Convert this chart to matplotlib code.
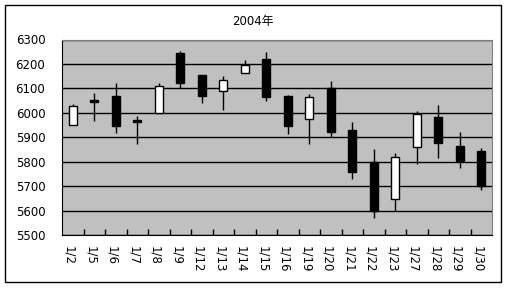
#!/usr/bin/env python3
"""Candlestick chart of daily prices, January 2004 (Excel style)"""

import matplotlib
matplotlib.use('Agg')
import matplotlib.pyplot as plt
import matplotlib.transforms as mtransforms
from matplotlib.patches import Rectangle
import numpy as np

plt.rcParams['font.family'] = ['DejaVu Sans', 'Noto Sans CJK JP']

# data
dates = ['1/2', '1/5', '1/6', '1/7', '1/8', '1/9', '1/12', '1/13', '1/14', '1/15',
         '1/16', '1/19', '1/20', '1/21', '1/22', '1/23', '1/27', '1/28', '1/29', '1/30']
opens = [5949, 6053, 6069, 5971, 6000, 6245, 6155, 6088, 6164, 6220,
         6069, 5974, 6100, 5930, 5798, 5649, 5859, 5983, 5864, 5844]
highs = [6036, 6082, 6123, 5987, 6123, 6254, 6155, 6151, 6216, 6249,
         6071, 6076, 6130, 5963, 5852, 5835, 6008, 6031, 5922, 5856]
lows = [5949, 5968, 5919, 5874, 6000, 6100, 6042, 6013, 6164, 6050,
        5915, 5874, 5900, 5731, 5571, 5597, 5792, 5817, 5776, 5686]
closes = [6027, 6043, 5947, 5961, 6109, 6123, 6070, 6133, 6197, 6066,
          5947, 6064, 5923, 5759, 5597, 5818, 5995, 5878, 5804, 5701]
y_ticks = [5500, 5600, 5700, 5800, 5900, 6000, 6100, 6200, 6300]


def create_candle_chart():
    fig = plt.figure(figsize=(5.07, 2.88), dpi=100)
    W, H = 507, 288
    ax = fig.add_axes([62 / W, (H - 235) / H, 430 / W, (235 - 39.5) / H])

    x = np.arange(len(dates))
    o = np.array(opens)
    c = np.array(closes)
    up = c >= o

    # wicks
    ax.vlines(x, lows, highs, color='black', linewidth=1.0, zorder=2)
    # bodies
    ax.bar(x, np.abs(c - o), bottom=np.minimum(o, c), width=0.36,
           color=np.where(up, 'white', 'black'), edgecolor='black',
           linewidth=1.0, zorder=3)

    ax.set_facecolor('#c0c0c0')
    ax.set_xlim(-0.5, len(dates) - 0.5)
    ax.set_ylim(5500, 6300)
    ax.set_yticks(y_ticks)
    ax.grid(True, axis='y', color='black', linewidth=1.0, zorder=1)
    ax.set_axisbelow(True)

    for side in ['top', 'right']:
        ax.spines[side].set_color('#808080')
    ax.spines['left'].set_color('black')
    ax.spines['bottom'].set_color('black')

    ax.set_xticks(x)
    ax.set_xticklabels(dates, rotation=270, va='top', ha='center')
    ax.set_xticks(np.arange(0.5, len(dates) - 0.5), minor=True)
    ax.tick_params(axis='x', which='major', length=0, pad=8, labelsize=8.5)
    ax.tick_params(axis='x', which='minor', direction='in', length=4,
                   width=1, color='black')
    ax.tick_params(axis='y', length=0, pad=12, labelsize=8.5)

    shift = mtransforms.ScaledTranslation(-4 / 100, 0, fig.dpi_scale_trans)
    for lab in ax.get_xticklabels():
        lab.set_transform(lab.get_transform() + shift)

    fig.text(253 / W, 1 - 22 / H, '2004年', ha='center', va='center',
             fontsize=8.5)

    fig.patches.append(Rectangle((5 / W, 1 - 282 / H), 496 / W, 277 / H,
                                 transform=fig.transFigure, fill=False,
                                 edgecolor='black', linewidth=1.0))

    fig.savefig('out.png', dpi=100, facecolor='white')
    plt.close(fig)


if __name__ == "__main__":
    create_candle_chart()
